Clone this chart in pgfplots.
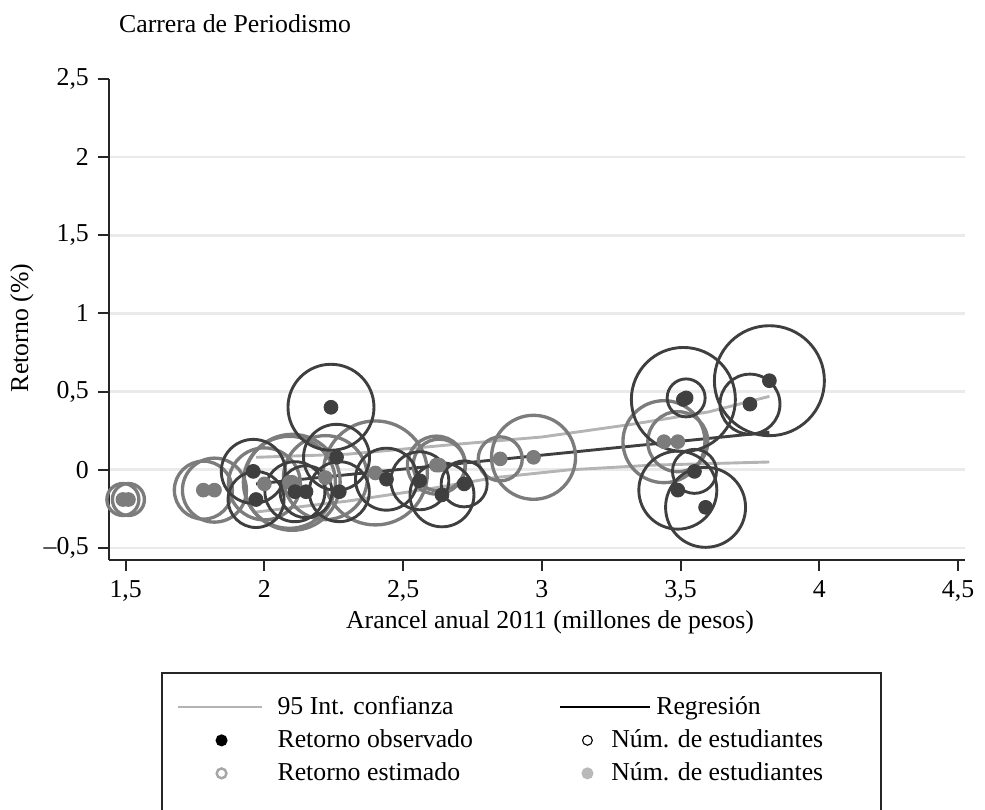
\documentclass[border=0pt]{standalone}
\usepackage{fontspec}
\setmainfont{Liberation Serif}
\usepackage{pgfplots}
\pgfplotsset{compat=1.18}
\usepackage{pgfplotstable}
\definecolor{darkc}{HTML}{3F3F3F}
\definecolor{grayc}{HTML}{7C7C7C}
\definecolor{cic}{HTML}{B4B4B4}
\definecolor{gridc}{HTML}{EAEAEA}
\newcommand{\twofive}{2,5}

% observed return (x = tuition, y = return, r = circle radius in pt)
\pgfplotstableread{
x y r
1.96 -0.01 14.4
1.97 -0.19 12.6
2.11 -0.14 13.5
2.15 -0.14 11.7
2.24 0.40 19.35
2.26 0.08 14.85
2.27 -0.14 13.5
2.44 -0.06 13.95
2.56 -0.07 13.05
2.64 -0.16 14.4
2.72 -0.09 10.35
3.49 -0.13 17.55
3.51 0.45 23.4
3.52 0.46 8.55
3.55 -0.01 9.9
3.59 -0.24 18
3.75 0.42 13.5
3.82 0.57 24.75
}\obs

% estimated return
\pgfplotstableread{
x y r
1.49 -0.19 7.2
1.51 -0.19 7.2
1.78 -0.13 13.05
1.82 -0.13 14.4
2.00 -0.09 16.2
2.09 -0.08 20.7
2.10 -0.08 21.6
2.22 -0.05 18.9
2.40 -0.02 23.4
2.62 0.03 13.05
2.63 0.03 11.7
2.85 0.07 9.9
2.97 0.08 18.9
3.44 0.18 18.45
3.49 0.18 13.5
}\est

\begin{document}
\fontsize{11.6}{13.9}\selectfont
\begin{tikzpicture}
\begin{axis}[
  scale only axis,
  width=385.2pt, height=216.45pt,
  xmin=1.44, xmax=4.525,
  ymin=-0.577, ymax=2.5,
  axis x line*=bottom, axis y line*=left,
  axis line style={line width=0.9pt, black!85},
  tick style={line width=0.9pt, black!85},
  tick align=outside,
  major tick length=5pt,
  xtick={1.5,2,2.5,3,3.5,4,4.5},
  xticklabels={{1,5},2,{2,5},3,{3,5},4,{4,5}},
  ytick={-0.5,0,0.5,1,1.5,2},
  yticklabels={{–0,5},0,{0,5},1,{1,5},2},
  extra y ticks={2.5},
  extra y tick labels={\twofive},
  extra y tick style={grid=none},
  ymajorgrids,
  major grid style={line width=1.2pt, gridc},
  every axis title shift=0pt,
  title={Carrera de Periodismo},
  title style={at={(axis description cs:0.0013,1.0977)}, anchor=base west},
  xlabel={Arancel anual 2011 (millones de pesos)},
  every axis x label/.style={at={(axis description cs:0.5152,-0.1414)}, anchor=base},
  ylabel={Retorno (\%)},
  every axis y label/.style={at={(axis description cs:-0.1016,0.4824)}, rotate=90, anchor=center},
  legend columns=2,
  legend cell align=left,
  legend style={at={(axis description cs:0.4819,-0.2329)}, anchor=north,
    draw=black!85, line width=0.8pt, fill=white,
    inner xsep=6.75pt, inner ysep=10pt,
    column sep=0pt, row sep=3.85pt,
    /tikz/every odd column/.style={column sep=0pt},
    /tikz/every even column/.style={column sep=0pt},
    nodes={inner sep=0pt, text height=8.5pt, text depth=2.5pt}},
]
% circles for estimated returns
\addplot[forget plot, scatter, only marks, mark=o, line width=1.5pt,
  mark options={line width=1.5pt},
  scatter/use mapped color={draw=grayc},
  visualization depends on={\thisrow{r}\as\rr},
  scatter/@pre marker code/.append style={/tikz/mark size=\rr}]
  table[x=x,y=y]{\est};
% circles for observed returns
\addplot[forget plot, scatter, only marks, mark=o, line width=1.3pt,
  mark options={line width=1.3pt},
  scatter/use mapped color={draw=darkc},
  visualization depends on={\thisrow{r}\as\rr},
  scatter/@pre marker code/.append style={/tikz/mark size=\rr}]
  table[x=x,y=y]{\obs};
% confidence interval
\addplot[forget plot, cic, line width=1.3pt] coordinates {
(1.97,0.08) (2.3,0.10) (2.67,0.16) (3.0,0.21) (3.32,0.29) (3.6,0.37) (3.82,0.47)};
\addplot[forget plot, cic, line width=1.3pt] coordinates {
(1.97,-0.27) (2.3,-0.20) (2.6,-0.12) (2.83,-0.05) (3.1,0.0) (3.4,0.03) (3.82,0.05)};
% regression
\addplot[forget plot, darkc, line width=1.3pt] coordinates {(1.97,-0.09) (3.82,0.24)};
% points
\addplot[forget plot, only marks, mark=*, mark size=3.1pt, grayc] table[x=x,y=y]{\est};
\addplot[forget plot, only marks, mark=*, mark size=3.1pt, darkc] table[x=x,y=y]{\obs};

% legend
\addlegendimage{legend image code/.code={
  \draw[cic, line width=0.8pt] (0pt,0pt) -- (37.8pt,0pt);
  \path[draw=none, fill=none] (0pt,-1pt) rectangle (45pt,1pt);}}
\addlegendentry{\makebox[126.9pt][l]{95 Int. confianza}}
\addlegendimage{legend image code/.code={
  \draw[black, line width=0.8pt] (0pt,0pt) -- (22.5pt,0pt);
  \draw[overlay, black, line width=0.8pt] (22.5pt,0pt) -- (40.5pt,0pt);
  \path[draw=none, fill=none] (0pt,-1pt) rectangle (22.5pt,1pt);}}
\addlegendentry{\makebox[114.75pt][l]{\hspace{20.25pt}Regresión}}
\addlegendimage{legend image code/.code={
  \fill[black] (19.8pt,0pt) circle (2.3pt);
  \path[draw=none, fill=none] (0pt,-1pt) rectangle (45pt,1pt);}}
\addlegendentry{\makebox[126.9pt][l]{Retorno observado}}
\addlegendimage{legend image code/.code={
  \draw[black, line width=0.5pt, fill=none] (12.15pt,0pt) circle (2.2pt);
  \path[draw=none, fill=none] (0pt,-1pt) rectangle (22.5pt,1pt);}}
\addlegendentry{\makebox[114.75pt][l]{Núm. de estudiantes}}
\addlegendimage{legend image code/.code={
  \draw[gray!70, line width=1.1pt, fill=none] (19.8pt,0pt) circle (2.2pt);
  \path[draw=none, fill=none] (0pt,-1pt) rectangle (45pt,1pt);}}
\addlegendentry{\makebox[126.9pt][l]{Retorno estimado}}
\addlegendimage{legend image code/.code={
  \fill[gray!55] (12.15pt,0pt) circle (2.3pt);
  \path[draw=none, fill=none] (0pt,-1pt) rectangle (22.5pt,1pt);}}
\addlegendentry{\makebox[114.75pt][l]{Núm. de estudiantes}}
\addlegendimage{empty legend}
\addlegendentry{}
\addlegendimage{empty legend}
\addlegendentry{}

\coordinate (O) at (rel axis cs:0,0);
\end{axis}
\pgfresetboundingbox
\useasboundingbox ([xshift=-49.05pt,yshift=-112.05pt]O) rectangle ([xshift=394.2pt,yshift=252pt]O);
\end{tikzpicture}
\end{document}
